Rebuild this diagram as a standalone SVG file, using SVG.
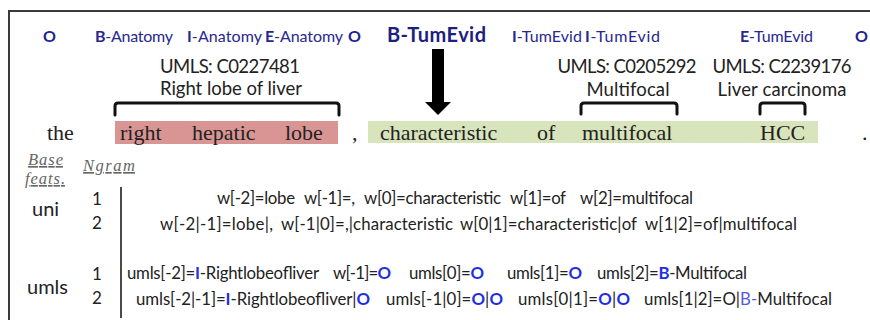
<svg xmlns="http://www.w3.org/2000/svg" width="870" height="320" viewBox="0 0 870 320">
<defs>
<style>
  .frame{fill:none;stroke:#3a3a3a;stroke-width:2}
  .tag{font-family:Lato,"Liberation Sans",sans-serif;font-size:16px;fill:#27278f}
  .p{font-weight:bold}
  .tagO{font-family:Lato,"Liberation Sans",sans-serif;font-size:16px;font-weight:bold;fill:#23238f}
  .focus{font-family:Lato,"Liberation Sans",sans-serif;font-size:20px;font-weight:bold;fill:#1e1e80}
  .umls{font-family:Lato,"Liberation Sans",sans-serif;font-size:18.5px;fill:#222;text-anchor:middle}
  .tok{font-family:"Liberation Serif",serif;font-size:22px;fill:#222}
  .anat{fill:#d99594}
  .tum{fill:#d8e4bc}
  .bracket{fill:none;stroke:#111;stroke-width:3;stroke-linejoin:round;stroke-linecap:round}
  .hdr{font-family:"Liberation Serif",serif;font-style:italic;font-size:16.5px;fill:#666;text-decoration:underline}
  .grp{font-family:Lato,"Liberation Sans",sans-serif;font-size:20px;fill:#222}
  .n{font-family:Lato,"Liberation Sans",sans-serif;font-size:17px;fill:#222;text-anchor:middle}
  .ft{font-family:Lato,"Liberation Sans",sans-serif;font-size:16.8px;fill:#222;white-space:pre}
  .b{fill:#1f2fe0;font-weight:bold}
  .lb{fill:#5a5ae0}
  .rule{stroke:#4a4a4a;stroke-width:2}
</style>
</defs>

<rect class="frame" x="9" y="11" width="890" height="340"/>

<!-- BIO tag row -->
<g id="tags">
  <text class="tagO" x="43" y="42">O</text>
  <text class="tag" x="95" y="42" textLength="78"><tspan class="p">B</tspan>-Anatomy</text>
  <text class="tag" x="187" y="42" textLength="75"><tspan class="p">I</tspan>-Anatomy</text>
  <text class="tag" x="265" y="42" textLength="78"><tspan class="p">E</tspan>-Anatomy</text>
  <text class="tagO" x="348" y="42">O</text>
  <text class="focus" x="387" y="42" textLength="99">B-TumEvid</text>
  <text class="tag" x="512" y="42" textLength="70"><tspan class="p">I</tspan>-TumEvid</text>
  <text class="tag" x="585" y="42" textLength="75"><tspan class="p">I</tspan>-TumEvid</text>
  <text class="tag" x="740" y="42" textLength="73"><tspan class="p">E</tspan>-TumEvid</text>
  <text class="tagO" x="855" y="42">O</text>
</g>

<!-- UMLS concepts -->
<g id="concept-c0227481">
  <text class="umls" x="230" y="73" textLength="140">UMLS: C0227481</text>
  <text class="umls" x="231" y="95" textLength="142">Right lobe of liver</text>
</g>
<g id="concept-c0205292">
  <text class="umls" x="627" y="73" textLength="139">UMLS: C0205292</text>
  <text class="umls" x="628" y="96" textLength="83">Multifocal</text>
</g>
<g id="concept-c2239176">
  <text class="umls" x="782" y="73" textLength="139">UMLS: C2239176</text>
  <text class="umls" x="782" y="96" textLength="129">Liver carcinoma</text>
</g>

<!-- sentence with entity spans -->
<g id="sentence">
  <rect class="anat" x="115" y="121" width="223" height="23"/>
  <rect class="tum" x="368" y="121" width="450" height="22"/>
  <text class="tok" x="47" y="140">the</text>
  <text class="tok" x="120" y="140">right</text>
  <text class="tok" x="192" y="140">hepatic</text>
  <text class="tok" x="285" y="140">lobe</text>
  <text class="tok" x="352" y="140">,</text>
  <text class="tok" x="380" y="140">characteristic</text>
  <text class="tok" x="537" y="140">of</text>
  <text class="tok" x="582" y="140">multifocal</text>
  <text class="tok" x="760" y="140">HCC</text>
  <text class="tok" x="862" y="140">.</text>
</g>

<g id="connectors">
  <path class="bracket" d="M115,115 V106 Q115,103 118,103 H336 Q339,103 339,106 V115"/>
  <path class="bracket" d="M581,114 V106 Q581,103 584,103 H674 Q677,103 677,106 V114"/>
  <path class="bracket" d="M760,114 V106 Q760,103 763,103 H802 Q805,103 805,106 V114"/>
  <rect x="432" y="49" width="12" height="54" fill="#000"/>
  <polygon points="425,102 451,102 438,115" fill="#000"/>
</g>

<!-- feature table -->
<g id="headers">
  <text class="hdr" x="28" y="165" textLength="35">Base</text>
  <text class="hdr" x="25" y="184" textLength="40">feats.</text>
  <text class="hdr" x="83" y="171" textLength="52">Ngram</text>
  <line class="rule" x1="121" y1="187" x2="121" y2="318"/>
</g>

<g id="uni">
  <text class="grp" x="32" y="216">uni</text>
  <text class="n" x="97" y="205">1</text>
  <text class="n" x="97" y="229">2</text>
  <text class="ft" x="217" y="204" textLength="78">w[-2]=lobe</text>
  <text class="ft" x="304" y="204" textLength="51">w[-1]=,</text>
  <text class="ft" x="364" y="204" textLength="137">w[0]=characteristic</text>
  <text class="ft" x="510" y="204" textLength="56">w[1]=of</text>
  <text class="ft" x="580" y="204" textLength="113">w[2]=multifocal</text>
  <text class="ft" x="160" y="230" textLength="113">w[-2|-1]=lobe|,</text>
  <text class="ft" x="281" y="230" textLength="172">w[-1|0]=,|characteristic</text>
  <text class="ft" x="460" y="230" textLength="177">w[0|1]=characteristic|of</text>
  <text class="ft" x="645" y="230" textLength="152">w[1|2]=of|multifocal</text>
</g>

<g id="umls">
  <text class="grp" x="27" y="294">umls</text>
  <text class="n" x="97" y="280">1</text>
  <text class="n" x="97" y="304">2</text>
  <text class="ft" x="127" y="279" textLength="192">umls[-2]=<tspan class="b">I</tspan>-Rightlobeofliver</text>
  <text class="ft" x="333" y="279" textLength="58">w[-1]=<tspan class="b">O</tspan></text>
  <text class="ft" x="409" y="279" textLength="75">umls[0]=<tspan class="b">O</tspan></text>
  <text class="ft" x="507" y="279" textLength="75">umls[1]=<tspan class="b">O</tspan></text>
  <text class="ft" x="597" y="279" textLength="150">umls[2]=<tspan class="b">B</tspan>-Multifocal</text>
  <text class="ft" x="136" y="305" textLength="234">umls[-2|-1]=<tspan class="b">I</tspan>-Rightlobeofliver|<tspan class="b">O</tspan></text>
  <text class="ft" x="386" y="305" textLength="117">umls[-1|0]=<tspan class="b">O</tspan>|<tspan class="b">O</tspan></text>
  <text class="ft" x="518" y="305" textLength="112">umls[0|1]=<tspan class="b">O</tspan>|<tspan class="b">O</tspan></text>
  <text class="ft" x="644" y="305" textLength="188">umls[1|2]=O|<tspan class="lb">B-</tspan>Multifocal</text>
</g>
</svg>
